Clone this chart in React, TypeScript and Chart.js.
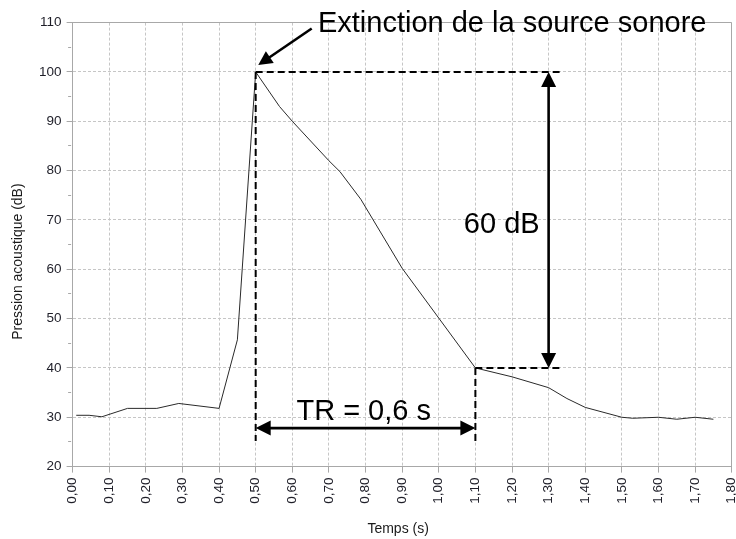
import React, { useEffect, useRef } from 'react';
import { Chart, registerables } from 'chart.js';

Chart.register(...registerables);

// Measured curve: time (s) and acoustic pressure (dB)
const timeS = [0.01, 0.045, 0.08, 0.15, 0.23, 0.29, 0.40, 0.45, 0.50, 0.565, 0.60, 0.70, 0.73, 0.787, 0.90, 1.00, 1.10, 1.20, 1.30, 1.35, 1.40, 1.50, 1.53, 1.60, 1.65, 1.70, 1.75];
const pressureDb = [30.4, 30.4, 30.1, 31.8, 31.8, 32.8, 31.8, 45.7, 100, 93, 90, 82, 79.8, 74.2, 60.2, 50.1, 40, 38.2, 36, 33.8, 32, 30, 29.8, 30, 29.6, 30, 29.6];

// Axis ranges / ticks
const xMin = 0;
const xMax = 1.8;
const xStep = 0.1;
const yMin = 20;
const yMax = 110;
const yStep = 5;
const yLabelStep = 10;

// Annotation values
const tOff = 0.5;       // extinction of the source
const tEnd = 1.1;       // end of the 60 dB decay
const levelHigh = 100;
const levelLow = 40;
const tRefEnd = 1.33;   // end of horizontal reference lines
const levelDashBottom = 25.2;
const levelTrArrow = 27.8;
const tDbArrow = 1.3;
const annotationTexts = ['Extinction de la source sonore', '60 dB', 'TR = 0,6 s'];

const FONT = "'Liberation Sans', Arial, sans-serif";

function drawHead(ctx: CanvasRenderingContext2D, fx: number, fy: number, tx: number, ty: number, len: number, half: number) {
  const a = Math.atan2(ty - fy, tx - fx);
  const c = Math.cos(a), s = Math.sin(a);
  ctx.beginPath();
  ctx.moveTo(tx, ty);
  ctx.lineTo(tx - len * c + half * s, ty - len * s - half * c);
  ctx.lineTo(tx - len * c - half * s, ty - len * s + half * c);
  ctx.closePath();
  ctx.fill();
}

function drawArrow(ctx: CanvasRenderingContext2D, x1: number, y1: number, x2: number, y2: number, both: boolean, len = 15, half = 7.5) {
  const d = Math.hypot(x2 - x1, y2 - y1);
  const ux = (x2 - x1) / d, uy = (y2 - y1) / d;
  const sx = both ? x1 + ux * (len - 2) : x1;
  const sy = both ? y1 + uy * (len - 2) : y1;
  const ex = x2 - ux * (len - 2), ey = y2 - uy * (len - 2);
  ctx.beginPath();
  ctx.moveTo(sx, sy);
  ctx.lineTo(ex, ey);
  ctx.stroke();
  drawHead(ctx, x1, y1, x2, y2, len, half);
  if (both) drawHead(ctx, x2, y2, x1, y1, len, half);
}

const framePlugin = {
  id: 'frame',
  beforeDatasetsDraw(chart: any) {
    const { ctx, chartArea } = chart;
    ctx.save();
    ctx.strokeStyle = '#a8a8a8';
    ctx.lineWidth = 1;
    const t = Math.round(chartArea.top) + 0.5 - 1;
    const r = Math.round(chartArea.right) - 0.5;
    ctx.beginPath();
    ctx.moveTo(chartArea.left, t);
    ctx.lineTo(r, t);
    ctx.lineTo(r, chartArea.bottom);
    ctx.stroke();
    ctx.restore();
  },
};

const annotationPlugin = {
  id: 'annotations',
  afterDatasetsDraw(chart: any) {
    const { ctx } = chart;
    const xs = chart.scales.x, ys = chart.scales.y;
    const px = (v: number) => xs.getPixelForValue(v);
    const py = (v: number) => ys.getPixelForValue(v);
    ctx.save();
    ctx.strokeStyle = '#000';
    ctx.fillStyle = '#000';

    // dashed construction lines
    ctx.lineWidth = 2;
    ctx.setLineDash([7, 4]);
    const seg = (a: number, b: number, c: number, d: number) => {
      ctx.beginPath();
      ctx.moveTo(px(a), py(b));
      ctx.lineTo(px(c), py(d));
      ctx.stroke();
    };
    seg(tOff, levelHigh, tRefEnd, levelHigh);
    seg(tOff, levelHigh, tOff, levelDashBottom);
    seg(tEnd, levelLow, tRefEnd, levelLow);
    seg(tEnd, levelLow, tEnd, levelDashBottom);
    ctx.setLineDash([]);

    // arrows
    ctx.lineWidth = 2.6;
    drawArrow(ctx, px(tOff), py(levelTrArrow), px(tEnd), py(levelTrArrow), true);
    drawArrow(ctx, px(tDbArrow), py(levelLow), px(tDbArrow), py(levelHigh), true);
    drawArrow(ctx, px(0.653), py(108.8), px(0.507), py(101.4), false, 14, 7);

    // texts
    ctx.font = `29px ${FONT}`;
    ctx.textBaseline = 'alphabetic';
    ctx.textAlign = 'left';
    ctx.fillText(annotationTexts[0], px(0.67), py(108.03));
    ctx.textAlign = 'right';
    ctx.fillText(annotationTexts[1], px(tDbArrow) - 9, py(67.3));
    ctx.textAlign = 'center';
    ctx.fillText(annotationTexts[2], px(0.795), py(29.45));

    ctx.restore();
  },
};

const titlesPlugin = {
  id: 'axisTitles',
  afterDraw(chart: any) {
    const { ctx, chartArea } = chart;
    ctx.save();
    ctx.fillStyle = '#1a1a1a';
    ctx.font = `14px ${FONT}`;
    ctx.textAlign = 'center';
    ctx.textBaseline = 'alphabetic';
    ctx.fillText('Temps (s)', (chartArea.left + chartArea.right) / 2 - 4, 533);
    ctx.translate(22.3, (chartArea.top + chartArea.bottom) / 2 + 17);
    ctx.rotate(-Math.PI / 2);
    ctx.fillText('Pression acoustique (dB)', 0, 0);
    ctx.restore();
  },
};

export default function App() {
  const ref = useRef<HTMLCanvasElement | null>(null);

  useEffect(() => {
    if (!ref.current) return;
    const gridColor = '#c6c6c6';
    const axisColor = '#a8a8a8';
    const chart = new Chart(ref.current, {
      type: 'line',
      data: {
        datasets: [
          {
            data: timeS.map((t, i) => ({ x: t, y: pressureDb[i] })),
            borderColor: '#2a2a2a',
            borderWidth: 1,
            pointRadius: 0,
            tension: 0,
            fill: false,
          },
        ],
      },
      options: {
        responsive: false,
        animation: false,
        events: [],
        layout: { padding: { left: 0, top: 22.6, right: 4.3, bottom: 0 } },
        plugins: {
          legend: { display: false },
          tooltip: { enabled: false },
          title: { display: false },
        },
        scales: {
          x: {
            type: 'linear',
            min: xMin,
            max: xMax,
            afterFit: (s: any) => {
              s.height = 72.4;
              s.paddingLeft = 0;
              s.paddingRight = 0;
            },
            ticks: {
              stepSize: xStep,
              autoSkip: false,
              maxRotation: 90,
              minRotation: 90,
              padding: 5,
              color: '#1e1e28',
              font: { family: FONT, size: 13.5 },
              callback: (v: any) => Number(v).toFixed(2).replace('.', ','),
            },
            grid: {
              color: gridColor,
              lineWidth: 1,
              tickLength: 6,
              tickColor: axisColor,
            },
            border: { display: true, color: axisColor, width: 1, dash: [3, 2] },
          },
          y: {
            type: 'linear',
            min: yMin,
            max: yMax,
            afterFit: (s: any) => {
              s.width = 72.6;
              s.paddingTop = 0;
              s.paddingBottom = 0;
            },
            ticks: {
              stepSize: yStep,
              autoSkip: false,
              padding: 5,
              color: '#1e1e28',
              font: { family: FONT, size: 13.5 },
              callback: (v: any) => (Number(v) % yLabelStep === 0 ? String(v) : ''),
            },
            grid: {
              color: (c: any) => (c.tick && c.tick.value % yLabelStep !== 0 ? 'rgba(0,0,0,0)' : gridColor),
              lineWidth: 1,
              tickLength: 6,
              tickColor: axisColor,
              tickBorderDash: (c: any) => (c.tick && c.tick.value % yLabelStep !== 0 ? [0, 1.5, 3, 30] : []),
            },
            border: { display: true, color: axisColor, width: 1, dash: [3, 2] },
          },
        },
      } as any,
      plugins: [framePlugin, annotationPlugin, titlesPlugin],
    });
    return () => chart.destroy();
  }, []);

  return (
    <div style={{ position: 'absolute', left: 0, top: 0, width: 736, height: 539, background: '#fff' }}>
      <canvas ref={ref} width={736} height={539} style={{ display: 'block', width: 736, height: 539 }} />
    </div>
  );
}
